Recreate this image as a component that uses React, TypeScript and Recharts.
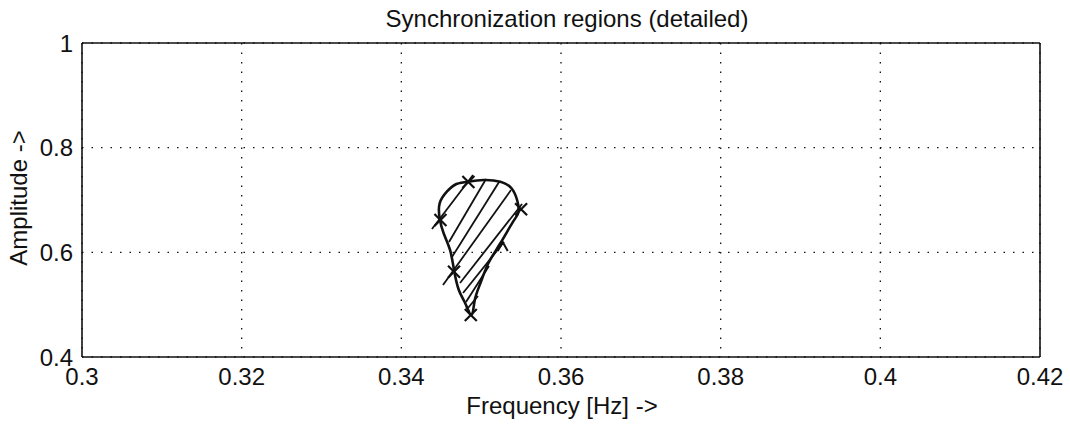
import { ComposedChart, Line, Scatter, XAxis, YAxis, CartesianGrid } from "recharts";

const freqTicks = [0.3, 0.32, 0.34, 0.36, 0.38, 0.4, 0.42];
const ampTicks = [0.4, 0.6, 0.8, 1];

// boundary of the synchronization region, walked clockwise from the top
const outlineFreq = [
  0.3484, 0.3503, 0.3524, 0.3538, 0.3545, 0.3547, 0.354, 0.3524, 0.3509, 0.3499, 0.3492,
  0.3488, 0.348, 0.3472, 0.3466, 0.3461, 0.3453, 0.3448, 0.3448, 0.3457, 0.3469, 0.3484,
];
const outlineAmp = [
  0.735, 0.7382, 0.735, 0.7224, 0.7, 0.6777, 0.6586, 0.6173, 0.5791, 0.5408, 0.5089,
  0.4803, 0.5026, 0.528, 0.5663, 0.6045, 0.6364, 0.6651, 0.6937, 0.7159, 0.7306, 0.735,
];

// measured points (x marks)
const markFreq = [0.3484, 0.3449, 0.355, 0.3466, 0.3487];
const markAmp = [0.7344, 0.6618, 0.6822, 0.563, 0.4803];
const caretFreq = [0.3527];
const caretAmp = [0.614];

// hatching strokes: [f start, a start, f end, a end]
const hatchLines = [
  [0.34384, 0.6446, 0.34898, 0.7478],
  [0.34597, 0.6198, 0.35061, 0.7402],
  [0.34635, 0.5911, 0.35224, 0.7344],
  [0.34522, 0.5376, 0.35374, 0.7191],
  [0.34735, 0.5414, 0.35512, 0.6924],
  [0.34773, 0.5223, 0.35286, 0.6198],
  [0.3481, 0.5051, 0.35098, 0.5739],
  [0.34835, 0.4936, 0.3496, 0.5166],
];

const outlineData = outlineFreq.map((f, i) => ({ f, a: outlineAmp[i] }));
const markData = markFreq.map((f, i) => ({ f, a: markAmp[i] }));
const caretData = caretFreq.map((f, i) => ({ f, a: caretAmp[i] }));
const hatchData = hatchLines.map((h) => [
  { f: h[0], a: h[1] },
  { f: h[2], a: h[3] },
]);

const FONT = "'Liberation Sans', Arial, Helvetica, sans-serif";
const INK = "#111";

function CrossMark(props: any) {
  const { cx, cy } = props;
  const r = 6;
  return (
    <path
      d={`M${cx - r},${cy - r}L${cx + r},${cy + r}M${cx - r},${cy + r}L${cx + r},${cy - r}`}
      stroke={INK}
      strokeWidth={2.2}
      fill="none"
    />
  );
}

function CaretMark(props: any) {
  const { cx, cy } = props;
  return (
    <path
      d={`M${cx - 5},${cy + 6}L${cx},${cy - 3}L${cx + 5},${cy + 6}`}
      stroke={INK}
      strokeWidth={2}
      fill="none"
    />
  );
}

// tick marks only, no label
const NoLabel = () => <g />;

const fmt = (v: number) => String(v);

export default function App() {
  return (
    <div
      style={{
        position: "absolute",
        left: 0,
        top: 0,
        width: 1070,
        height: 428,
        background: "white",
        fontFamily: FONT,
        color: INK,
      }}
    >
      <div
        style={{
          position: "absolute",
          left: 267,
          top: 7,
          width: 600,
          textAlign: "center",
          fontSize: 24,
          lineHeight: "24px",
        }}
      >
        Synchronization regions (detailed)
      </div>

      <ComposedChart
        width={1070}
        height={428}
        margin={{ top: 43, right: 30, bottom: 0, left: 0 }}
        style={{ fontFamily: FONT }}
      >
        <CartesianGrid stroke={INK} strokeDasharray="1.5 8" strokeWidth={1.3} />
        <XAxis
          type="number"
          dataKey="f"
          domain={[0.3, 0.42]}
          ticks={freqTicks}
          tickFormatter={fmt}
          allowDataOverflow
          height={71}
          tickSize={0}
          tickMargin={11}
          tickLine={false}
          axisLine={{ stroke: INK, strokeWidth: 1.6 }}
          tick={{ fontSize: 24, fill: INK, fontFamily: FONT }}
        />
        <XAxis
          xAxisId="bottomTicks"
          type="number"
          domain={[0.3, 0.42]}
          ticks={freqTicks}
          orientation="bottom"
          mirror
          height={10}
          tick={NoLabel}
          axisLine={false}
          tickSize={7}
          tickLine={{ stroke: INK, strokeWidth: 1.4 }}
        />
        <XAxis
          xAxisId="top"
          type="number"
          domain={[0.3, 0.42]}
          ticks={freqTicks}
          orientation="top"
          mirror
          height={10}
          tick={NoLabel}
          tickSize={7}
          axisLine={{ stroke: INK, strokeWidth: 1.6 }}
          tickLine={{ stroke: INK, strokeWidth: 1.4 }}
        />
        <YAxis
          type="number"
          dataKey="a"
          domain={[0.4, 1]}
          ticks={ampTicks}
          tickFormatter={fmt}
          allowDataOverflow
          width={82}
          tickSize={0}
          tickMargin={9}
          tickLine={false}
          axisLine={{ stroke: INK, strokeWidth: 1.6 }}
          tick={{ fontSize: 24, fill: INK, fontFamily: FONT }}
        />
        <YAxis
          yAxisId="leftTicks"
          type="number"
          domain={[0.4, 1]}
          ticks={ampTicks}
          orientation="left"
          mirror
          width={10}
          tick={NoLabel}
          axisLine={false}
          tickSize={7}
          tickLine={{ stroke: INK, strokeWidth: 1.4 }}
        />
        <YAxis
          yAxisId="right"
          type="number"
          domain={[0.4, 1]}
          ticks={ampTicks}
          orientation="right"
          mirror
          width={10}
          tick={NoLabel}
          tickSize={7}
          axisLine={{ stroke: INK, strokeWidth: 1.6 }}
          tickLine={{ stroke: INK, strokeWidth: 1.4 }}
        />

        {hatchData.map((seg, i) => (
          <Line
            key={`hatch-${i}`}
            data={seg}
            dataKey="a"
            type="linear"
            stroke={INK}
            strokeWidth={1.8}
            dot={false}
            activeDot={false}
            isAnimationActive={false}
          />
        ))}
        <Line
          data={outlineData}
          dataKey="a"
          type="natural"
          stroke={INK}
          strokeWidth={2.6}
          dot={false}
          activeDot={false}
          isAnimationActive={false}
        />
        <Scatter data={markData} dataKey="a" shape={CrossMark} isAnimationActive={false} />
        <Scatter data={caretData} dataKey="a" shape={CaretMark} isAnimationActive={false} />
      </ComposedChart>

      <div
        style={{
          position: "absolute",
          left: 362,
          top: 394,
          width: 400,
          textAlign: "center",
          fontSize: 24,
          lineHeight: "24px",
        }}
      >
        Frequency [Hz] -&gt;
      </div>
      <div
        style={{
          position: "absolute",
          left: 19 - 150,
          top: 198 - 12,
          width: 300,
          height: 24,
          textAlign: "center",
          fontSize: 24,
          lineHeight: "24px",
          transform: "rotate(-90deg)",
        }}
      >
        Amplitude -&gt;
      </div>
    </div>
  );
}
